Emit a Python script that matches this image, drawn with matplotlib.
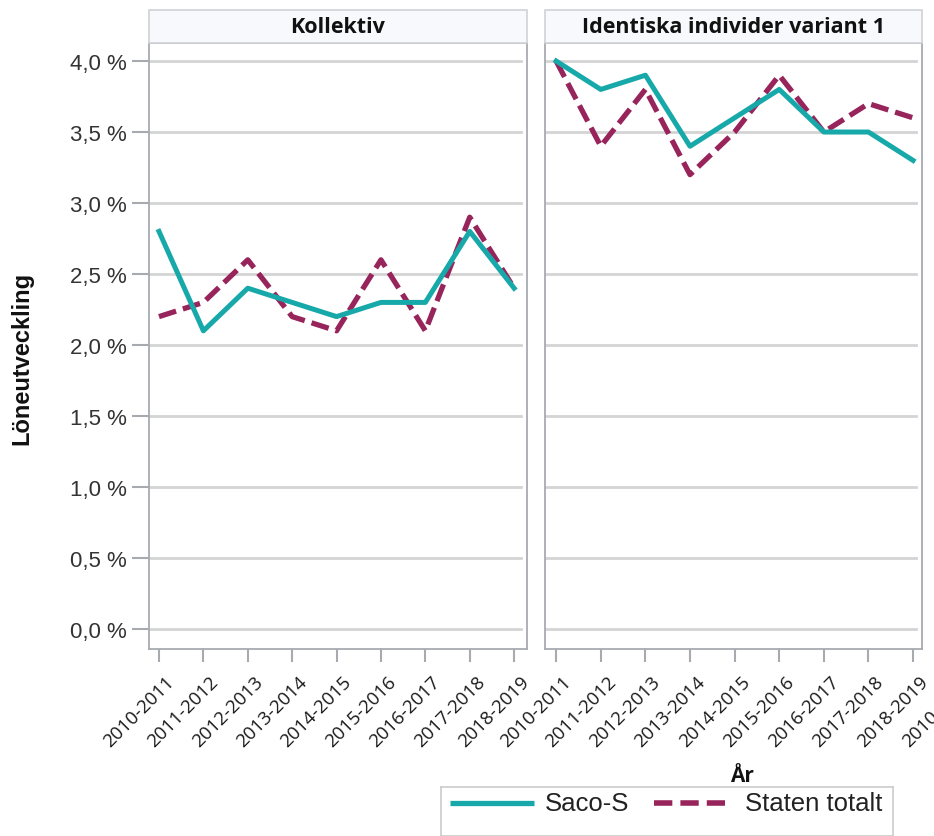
import matplotlib
matplotlib.use("Agg")
import matplotlib.pyplot as plt
from matplotlib.patches import Rectangle
import matplotlib.transforms as mtransforms

years = ["2010-2011", "2011-2012", "2012-2013", "2013-2014", "2014-2015",
         "2015-2016", "2016-2017", "2017-2018", "2018-2019"]
panels = ["Kollektiv", "Identiska individer variant 1"]
saco_kollektiv = [2.8, 2.1, 2.4, 2.3, 2.2, 2.3, 2.3, 2.8, 2.4]
staten_kollektiv = [2.2, 2.3, 2.6, 2.2, 2.1, 2.6, 2.1, 2.9, 2.4]
saco_identiska = [4.0, 3.8, 3.9, 3.4, 3.6, 3.8, 3.5, 3.5, 3.3]
staten_identiska = [4.0, 3.4, 3.8, 3.2, 3.5, 3.9, 3.5, 3.7, 3.6]
yticks = [0.0, 0.5, 1.0, 1.5, 2.0, 2.5, 3.0, 3.5, 4.0]
series_names = ["Saco-S", "Staten totalt"]

TEAL = "#17a9aa"
MAROON = "#97245a"
GRID = "#d4d4d4"
SPINE = "#a7abb0"

W, H = 934, 837
fig = plt.figure(figsize=(W / 100, H / 100), dpi=100)

def px_axes(x0, y0, x1, y1):
    return fig.add_axes([x0 / W, 1 - y1 / H, (x1 - x0) / W, (y1 - y0) / H])

ax1 = px_axes(149, 44, 527, 650)
ax2 = px_axes(545, 44, 922, 650)

tick_font = dict(family=["Open Sans", "DejaVu Sans"], size=13.5, color="#1a1a1a")
x = list(range(len(years)))
DASH = (0, (3.4, 1.35))
offx, offy = 6 / 100, -23 / 100

for ax, title, s, st, lims in [
    (ax1, panels[0], saco_kollektiv, staten_kollektiv, (-0.225, 8.29)),
    (ax2, panels[1], saco_identiska, staten_identiska, (-0.25, 8.2)),
]:
    ax.set_xlim(*lims)
    ax.set_ylim(-0.141, 4.127)
    for yv in yticks:
        ax.axhline(yv, color=GRID, lw=2.0, zorder=1, xmin=0.0, xmax=0.985)
    ax.plot(x, st, color=MAROON, lw=3.8, ls=DASH, zorder=3)
    ax.plot(x, s, color=TEAL, lw=3.6, zorder=4)
    for sp in ax.spines.values():
        sp.set_color(SPINE)
        sp.set_linewidth(1.3)
    ax.set_xticks(x)
    ax.set_xticklabels([])
    ax.tick_params(axis="x", length=9, width=1.5, color=SPINE)
    trans = mtransforms.blended_transform_factory(ax.transData, ax.transAxes)
    off = mtransforms.ScaledTranslation(offx, offy, fig.dpi_scale_trans)
    for xi, lab in zip(x, years):
        ax.text(xi, 0, lab, transform=trans + off, rotation=45,
                rotation_mode="anchor", ha="right", va="top", clip_on=False,
                **tick_font)
    ax.add_patch(Rectangle((0, 1.0), 1, 33 / 606, transform=ax.transAxes,
                           facecolor="#f8f9fd", edgecolor="#cfd2d6", lw=1.2,
                           clip_on=False, zorder=5))
    ax.text(0.5, 1.0 + 16.5 / 606, title, transform=ax.transAxes, ha="center",
            va="center", fontsize=15.5, fontweight="bold",
            family=["Open Sans", "DejaVu Sans"], color="#111111", zorder=6)

# clipped 10th label at right edge of right panel (as in reference)
trans2 = mtransforms.blended_transform_factory(ax2.transData, ax2.transAxes)
off2 = mtransforms.ScaledTranslation(offx, offy, fig.dpi_scale_trans)
ax2.text(9, 0, years[0], transform=trans2 + off2, rotation=45,
         rotation_mode="anchor", ha="right", va="top", clip_on=False, **tick_font)

ax1.set_yticks(yticks)
ax1.set_yticklabels([f"{v:.1f} %".replace(".", ",") for v in yticks],
                    fontsize=16, family=["Liberation Sans", "DejaVu Sans"],
                    color="#333333")
ax1.tick_params(axis="y", length=12, width=1.5, color=SPINE, pad=4)
ax2.set_yticks([])

fig.text(22 / W, 1 - 358 / H, "Löneutveckling", rotation=90, ha="center",
         va="center", fontsize=17, fontweight="bold",
         family=["Liberation Sans", "DejaVu Sans"], color="#111111")
fig.text(742 / W, 1 - 777 / H, "År", ha="center", va="center", fontsize=15,
         fontweight="bold", family=["Open Sans", "DejaVu Sans"], color="#111111")

# legend
lg = fig.add_axes([441 / W, 0, (893 - 441) / W, (H - 805) / H + 0.02])
lg.set_xlim(441, 893)
lg.set_ylim(H + 17, 805)
lg.set_xticks([])
lg.set_yticks([])
for sp in lg.spines.values():
    sp.set_color("#cccccc")
    sp.set_linewidth(1.2)
lg.plot([450, 534], [821, 821], color=TEAL, lw=3.8, solid_capstyle="butt")
lg.text(545, 821, series_names[0], ha="left", va="center", fontsize=18.5,
        family=["Liberation Sans", "DejaVu Sans"], color="#222222")
lg.plot([654, 725], [821, 821], color=MAROON, lw=4.0, ls=(0, (3.3, 1.45)),
        dash_capstyle="butt")
lg.text(745, 821, series_names[1], ha="left", va="center", fontsize=18.5,
        family=["Liberation Sans", "DejaVu Sans"], color="#222222")

fig.savefig("out.png", dpi=100)
